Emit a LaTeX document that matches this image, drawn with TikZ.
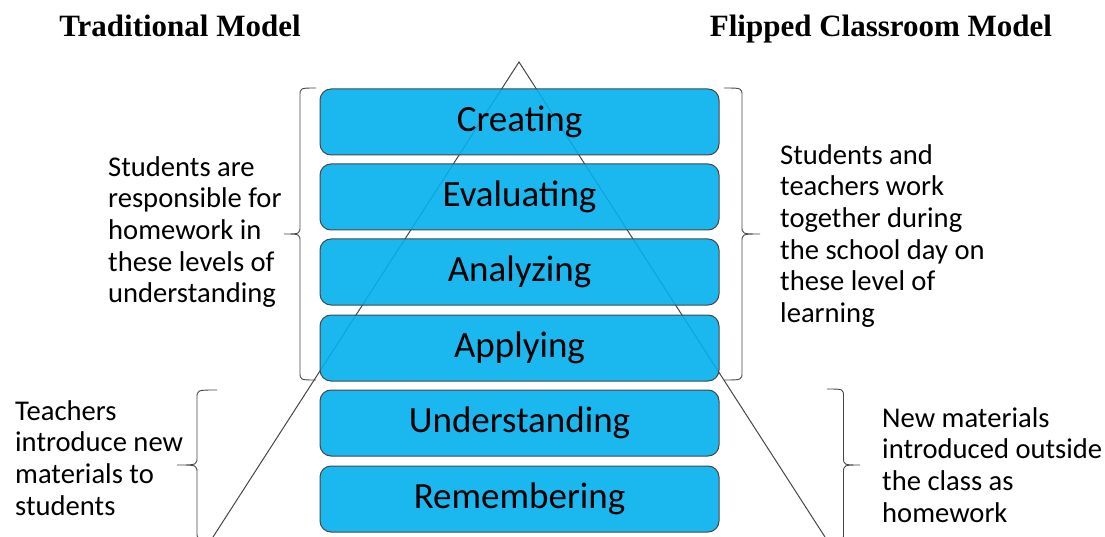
\documentclass[tikz,border=0pt]{standalone}
\usepackage{fontspec}
\setmainfont{Carlito}
\newfontfamily\headfont{Liberation Serif}
\usetikzlibrary{
    positioning
}
\definecolor{levelblue}{RGB}{2,175,237}
\definecolor{edgegray}{RGB}{70,70,70}
\tikzset{
    level/.style={draw=edgegray, line width=1pt, fill=levelblue, fill opacity=0.9, text opacity=1,
        rounded corners=11pt, minimum width=399pt, minimum height=66pt, inner sep=0pt,
        font=\fontsize{37}{42}\selectfont},
    note/.style={align=left, inner sep=0pt, anchor=north west, font=\fontsize{28.6}{31.7}\selectfont},
    heading/.style={font=\headfont\bfseries\fontsize{31}{36}\selectfont, inner sep=0pt, anchor=base},
    bracebar/.style={draw=edgegray, line width=0.9pt}
}
% hook x, top y, bottom y, amplitude (negative opens to the left)
\newcommand\levelbrace[4]{%
    \pgfmathsetmacro\bx{#1+0.5*(#4)}
    \pgfmathsetmacro\tx{#1+(#4)}
    \pgfmathsetmacro\my{0.5*(#2+#3)}
    \draw[bracebar] (#1,#2) .. controls (\bx,#2) .. (\bx,#2-8) -- (\bx,\my+8)
        .. controls (\bx,\my) .. (\tx,\my) .. controls (\bx,\my) .. (\bx,\my-8)
        -- (\bx,#3+8) .. controls (\bx,#3) .. (#1,#3);
}

\begin{document}
\begin{tikzpicture}[x=1pt, y=1pt]
    \useasboundingbox (0,0) rectangle (1105,-537);
    % pyramid behind the levels
    \coordinate (apex) at (519,-62);
    \coordinate (lfoot) at (213,-537);
    \coordinate (rfoot) at (825,-537);
    \draw[edgegray, line width=1pt] (lfoot) -- (apex) -- (rfoot);
    \node[level] (cre) at (519.5,-122) {Creating};
    \node[level] (eva) at (519.5,-197) {Evaluating};
    \node[level] (ana) at (519.5,-272) {Analyzing};
    \node[level] (app) at (519.5,-348) {Applying};
    \node[level] (und) at (519.5,-423) {Understanding};
    \node[level] (rem) at (519.5,-499) {Remembering};
    \node[heading] (tm) at (180,-37) {Traditional Model};
    \node[heading] (fcm) at (881,-37) {Flipped Classroom Model};
    \node[note] (shw) at (108,-156) {Students are\\responsible for\\homework in\\these levels of\\understanding};
    \node[note] (stw) at (780,-144) {Students and\\teachers work\\together during\\the school day on\\these level of\\learning};
    \node[note] (tin) at (15,-400) {Teachers\\introduce new\\materials to\\students};
    \node[note] (nmo) at (882,-407) {New materials\\introduced outside\\the class as\\homework};
    % braces
    \levelbrace{316}{-88}{-380}{-32}
    \levelbrace{724}{-88}{-380}{36}
    \levelbrace{217}{-390}{-540}{-40}
    \levelbrace{827}{-389}{-541}{33}
\end{tikzpicture}
\end{document}
